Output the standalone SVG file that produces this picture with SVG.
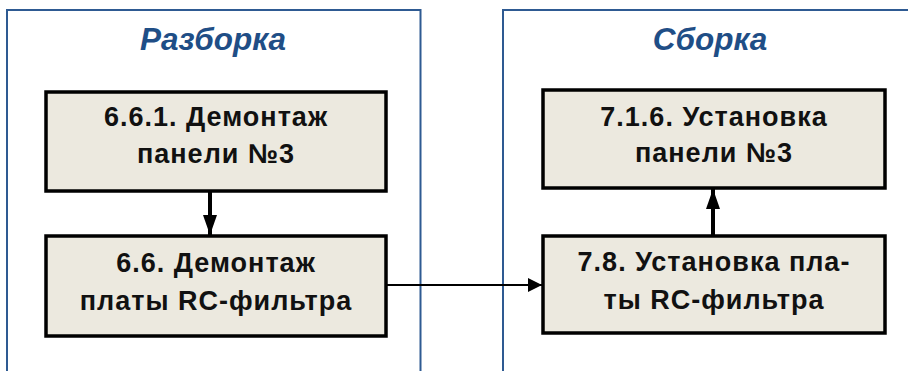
<svg xmlns="http://www.w3.org/2000/svg" width="908" height="371" viewBox="0 0 908 371">
<defs>
<style>
.panel{fill:none;stroke:#2E5A92;stroke-width:2}
.title{font-family:"Liberation Sans",Arial,sans-serif;font-weight:bold;font-style:italic;font-size:31.5px;fill:#1F4E86;text-anchor:middle}
.box{fill:#ECE9DF;stroke:#000;stroke-width:3.5}
.lbl{font-family:"Liberation Sans",Arial,sans-serif;font-weight:bold;font-size:27px;fill:#111;text-anchor:middle;letter-spacing:1px}
.con{fill:none;stroke:#000}
</style>
<marker id="ahv" viewBox="0 0 20 14" refX="20" refY="7" markerWidth="20" markerHeight="14" markerUnits="userSpaceOnUse" orient="auto"><path d="M0,0 L20,7 L0,14 Z" fill="#000"/></marker>
<marker id="ahh" viewBox="0 0 14 14" refX="14" refY="7" markerWidth="14" markerHeight="14" markerUnits="userSpaceOnUse" orient="auto"><path d="M0,0 L14,7 L0,14 Z" fill="#000"/></marker>
</defs>
<rect x="0" y="0" width="908" height="371" fill="#fff"/>
<g id="panel-razborka">
<path class="panel" d="M7,371 V10 H420.5 V371"/>
<text class="title" x="213" y="50">Разборка</text>
</g>
<g id="panel-sborka">
<path class="panel" d="M503,371 V10 H916 V371"/>
<text class="title" x="710" y="50">Сборка</text>
</g>
<g id="connectors">
<line class="con" x1="210" y1="191" x2="210" y2="235" stroke-width="4" style="marker-end:url(#ahv)"/>
<line class="con" x1="713" y1="236" x2="713" y2="189" stroke-width="4" style="marker-end:url(#ahv)"/>
<line class="con" x1="387" y1="285" x2="542" y2="285" stroke-width="2" style="marker-end:url(#ahh)"/>
</g>
<g id="n661">
<rect class="box" x="46" y="92" width="340" height="99"/>
<text class="lbl" x="216" y="126">6.6.1. Демонтаж</text>
<text class="lbl" x="216" y="163">панели №3</text>
</g>
<g id="n66">
<rect class="box" x="46" y="236" width="340" height="100"/>
<text class="lbl" x="216" y="272">6.6. Демонтаж</text>
<text class="lbl" x="216" y="310">платы RC-фильтра</text>
</g>
<g id="n716">
<rect class="box" x="543" y="90" width="342" height="98"/>
<text class="lbl" x="714" y="126">7.1.6. Установка</text>
<text class="lbl" x="714" y="162">панели №3</text>
</g>
<g id="n78">
<rect class="box" x="543" y="236" width="342" height="97"/>
<text class="lbl" x="714" y="271">7.8. Установка пла-</text>
<text class="lbl" x="714" y="309">ты RC-фильтра</text>
</g>
</svg>
